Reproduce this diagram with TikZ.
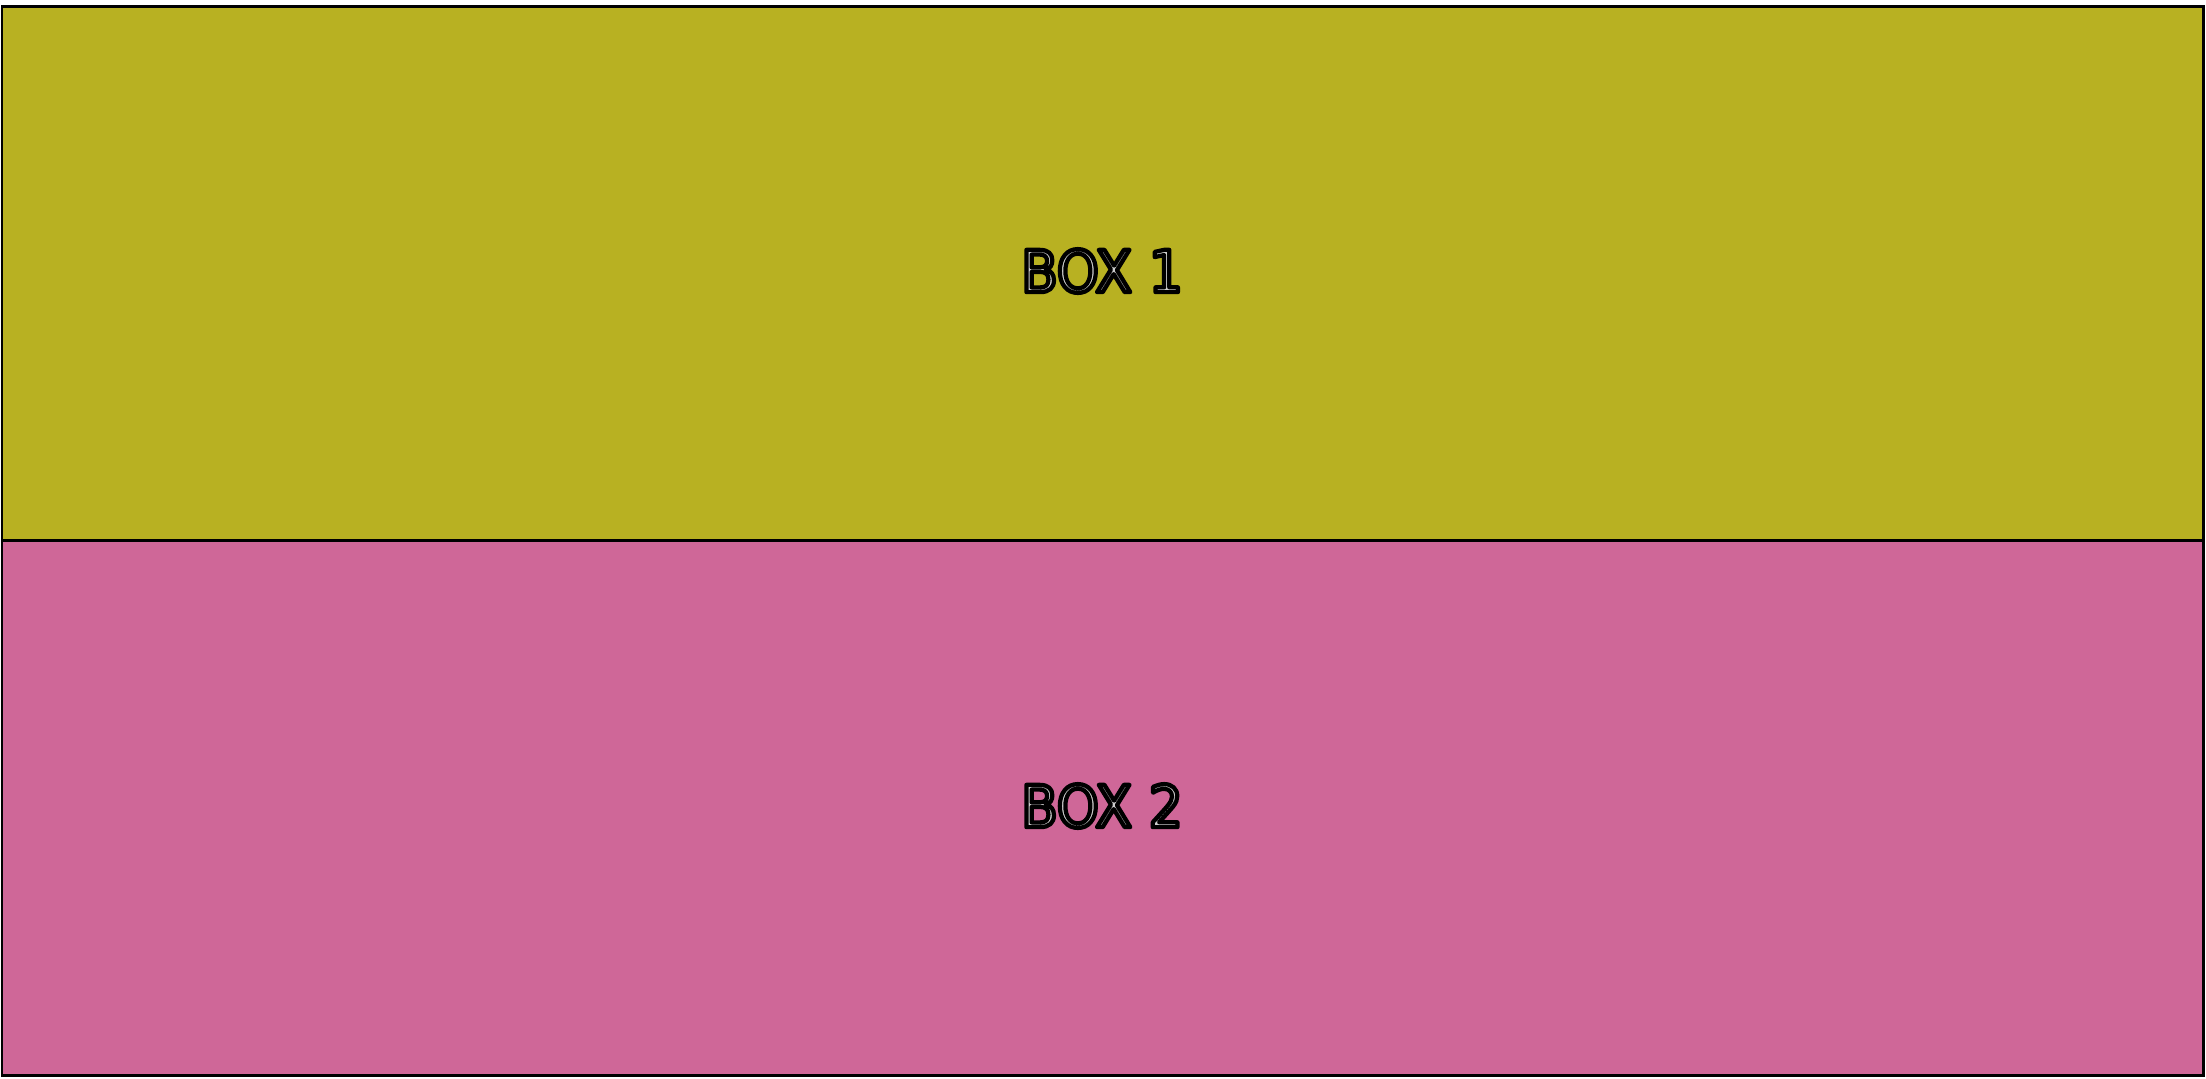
\documentclass[tikz,border=0pt]{standalone}
\usepackage{fontspec}
\setmainfont[FakeStretch=0.92]{DejaVu Sans}
\definecolor{boxyellow}{RGB}{184,177,34}
\definecolor{boxpink}{RGB}{207,103,152}
\definecolor{txtgray}{RGB}{205,205,205}
\newcommand{\outlinedtext}[1]{\textcolor{txtgray}{\special{pdf:code q 2 Tr 1.2 w 1 j 0 0 0 RG}#1\special{pdf:code Q}}}
\begin{document}
\begin{tikzpicture}[x=0.1mm,y=-0.1mm,
  panel/.style={draw=black,line width=0.85pt},
  lbl/.style={font=\fontsize{16.5}{20}\selectfont,inner sep=0pt}]
\useasboundingbox (0,0) rectangle (2206,1078);
\draw[panel,fill=boxyellow] (2,6) rectangle (2203,540);
\draw[panel,fill=boxpink] (2,540) rectangle (2203,1075);
\node[lbl] (b1) at (1102,271) {\outlinedtext{BOX 1}};
\node[lbl] (b2) at (1102,806) {\outlinedtext{BOX 2}};
\end{tikzpicture}
\end{document}
